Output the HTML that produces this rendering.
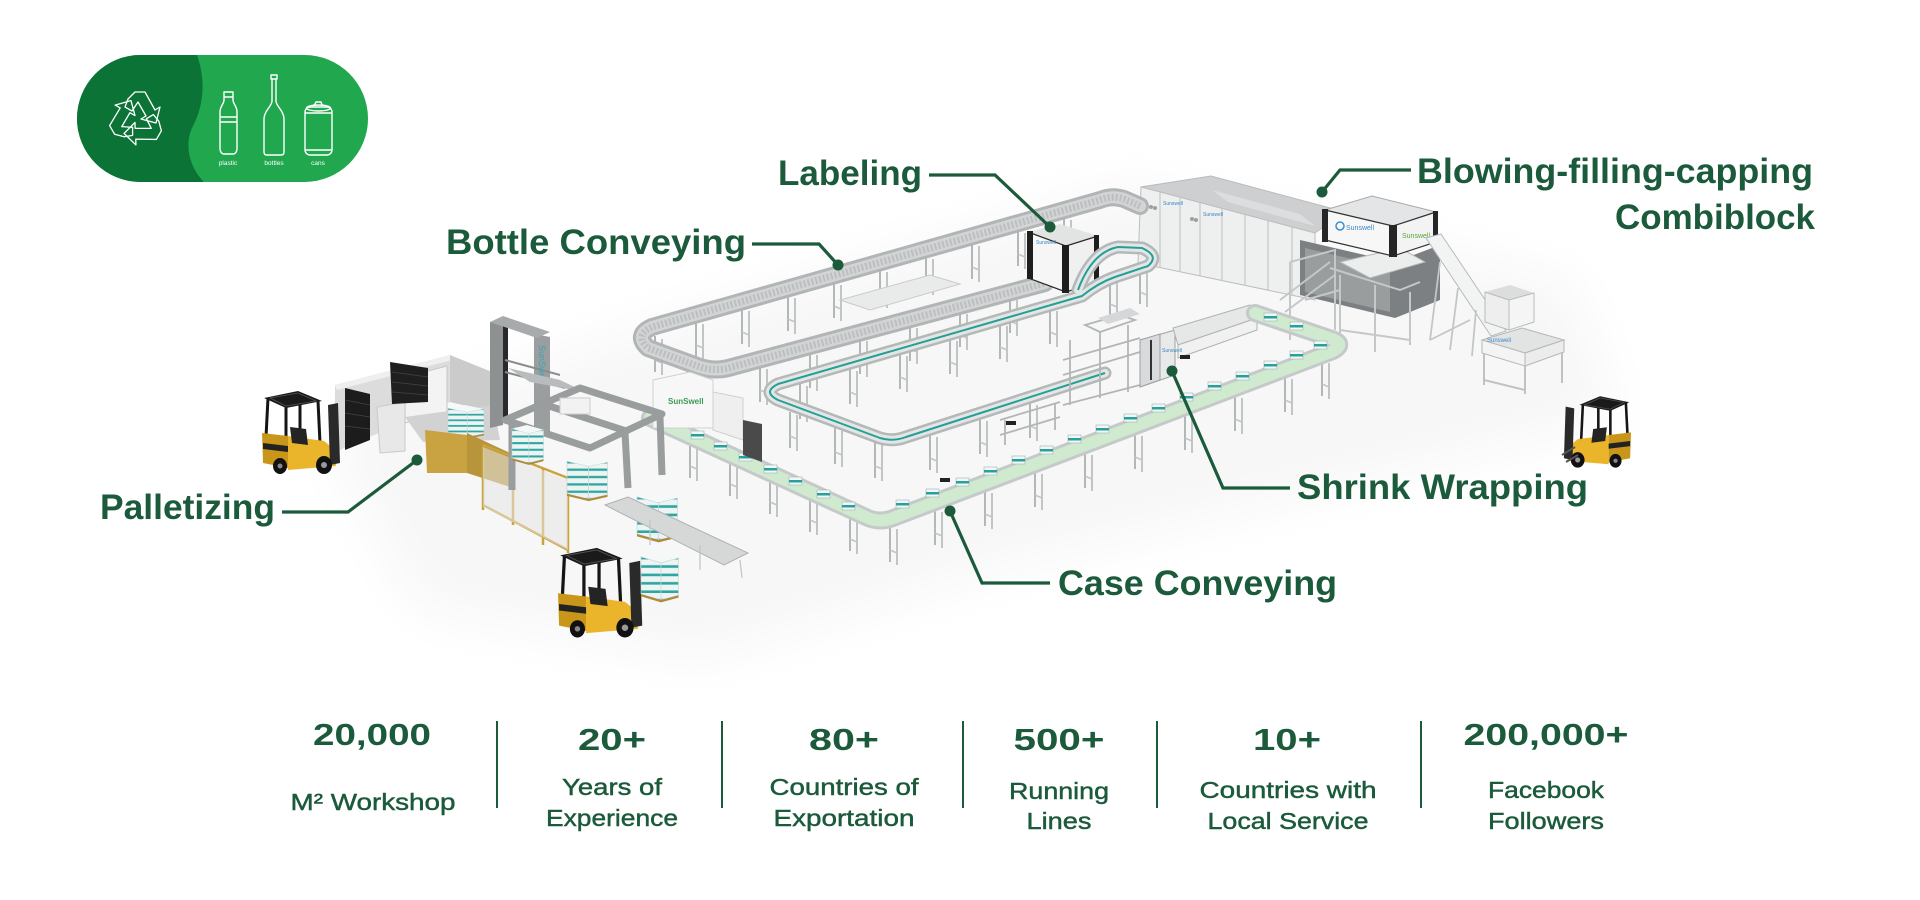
<!DOCTYPE html>
<html><head><meta charset="utf-8"><title>Production line</title>
<style>
html,body{margin:0;padding:0;background:#fff;}
svg{display:block;}
</style></head>
<body>
<svg xmlns="http://www.w3.org/2000/svg" xmlns:xlink="http://www.w3.org/1999/xlink" width="1920" height="900" viewBox="0 0 1920 900" font-family="'Liberation Sans', Arial, sans-serif">
<defs>
  <filter id="bl" x="-30%" y="-30%" width="160%" height="160%"><feGaussianBlur stdDeviation="25"/></filter>
  <clipPath id="pill"><rect x="77" y="55" width="291" height="127" rx="63.5"/></clipPath>
  <pattern id="tp" width="8" height="7" patternUnits="userSpaceOnUse">
    <rect width="8" height="7" fill="#eef4f4"/><rect y="4" width="8" height="2.2" fill="#2fa7a0"/>
  </pattern>
  <g id="leg">
    <line x1="0" y1="0" x2="0" y2="36" stroke="#b4b7b8" stroke-width="2"/>
    <line x1="7" y1="3" x2="7" y2="39" stroke="#c2c5c6" stroke-width="2"/>
    <line x1="0" y1="24" x2="7" y2="27" stroke="#c2c5c6" stroke-width="1.5"/>
  </g>
  <g id="pack">
    <rect x="0" y="0" width="13" height="8" fill="#f3f6f6" stroke="#9db4b2" stroke-width="0.6"/>
    <rect x="0" y="3" width="13" height="2.5" fill="#27a199"/>
  </g>
  <g id="stk">
    <polygon points="0,4 14,0 30,5 16,9" fill="#f5f8f8"/>
    <polygon points="0,4 16,9 16,40 0,35" fill="url(#tp)" stroke="#c9d4d4" stroke-width="0.5"/>
    <polygon points="16,9 30,5 30,36 16,40" fill="url(#tp)" stroke="#c9d4d4" stroke-width="0.5"/>
    <polygon points="0,35 16,40 30,36 30,38 16,42 0,37" fill="#b08a3a"/>
  </g>
  <g id="fl">
    <line x1="6" y1="5" x2="4" y2="44" stroke="#151515" stroke-width="3"/>
    <line x1="38" y1="0" x2="38" y2="38" stroke="#151515" stroke-width="3"/>
    <line x1="56" y1="8" x2="58" y2="50" stroke="#151515" stroke-width="3"/>
    <line x1="24" y1="12" x2="24" y2="46" stroke="#151515" stroke-width="3"/>
    <polygon points="2,5 36,-2 60,8 24,15" fill="#1a1a1a"/>
    <polygon points="8,5 36,0 54,8 24,13" fill="none" stroke="#555" stroke-width="0.8"/>
    <polygon points="0,40 26,43 26,75 1,70" fill="#c9961a"/>
    <polygon points="26,43 62,48 72,56 74,62 74,73 26,77" fill="#eab52b"/>
    <polygon points="1,50 26,53 26,59 1,56" fill="#222"/>
    <polygon points="28,34 44,36 46,52 30,50" fill="#242424"/>
    <polygon points="66,12 76,10 78,70 68,72" fill="#2a2a2a"/>
    <ellipse cx="18" cy="73" rx="7" ry="8" fill="#111"/><circle cx="18" cy="73" r="2.5" fill="#888"/>
    <ellipse cx="62" cy="72" rx="8" ry="9" fill="#111"/><circle cx="62" cy="72" r="3" fill="#999"/>
  </g>
</defs>

<rect width="1920" height="900" fill="#ffffff"/>

<!-- soft floor shadow -->
<path d="M320,430 L640,330 L1130,185 L1570,280 L1620,420 L1000,570 L700,660 L420,610 Z" fill="#f7f7f7" filter="url(#bl)"/>

<!-- ===== LOGO ===== -->
<g clip-path="url(#pill)">
  <rect x="77" y="55" width="291" height="127" fill="#21a84f"/>
  <path d="M77,55 H197 C206,80 204,106 192,128 C184,146 190,168 204,182 H77 Z" fill="#0c7337"/>
</g>
<g transform="translate(137,119)" fill="none" stroke="#fff" stroke-width="1.3" stroke-linejoin="round">
  <g id="rarm"><polygon points="-9,-20 -2,-27 8,-27 18,-9 23,-12 19,4 4,0 9,-3 1,-17 -5,-8 -12,-12"/></g>
  <use xlink:href="#rarm" transform="rotate(120)"/>
  <use xlink:href="#rarm" transform="rotate(240)"/>
</g>
<g fill="none" stroke="#fff" stroke-width="1.4" stroke-linejoin="round">
  <path d="M224,92 h9 v5 h-9 z M224,97 v3 c0,4 -4,6 -4,12 v37 c0,3 2,5 4,5 h9 c2,0 4,-2 4,-5 v-37 c0,-6 -4,-8 -4,-12 v-3"/>
  <line x1="220" y1="117" x2="237" y2="117"/><line x1="220" y1="122" x2="237" y2="122"/>
  <path d="M271,75 h6 v4 h-6 z M272,79 v22 c0,5 -8,10 -8,18 v33 c0,2 1,3 3,3 h14 c2,0 3,-1 3,-3 v-33 c0,-8 -8,-13 -8,-18 v-22"/>
  <rect x="305" y="107" width="27" height="48" rx="5"/>
  <ellipse cx="318.5" cy="108" rx="12" ry="3"/><line x1="305" y1="113" x2="332" y2="113"/><line x1="305" y1="150" x2="332" y2="150"/>
  <path d="M314,106 l2,-4 h5 l1,3"/>
</g>
<g fill="#fff" font-size="6.5" text-anchor="middle">
  <text x="228" y="165">plastic</text><text x="274" y="165">bottles</text><text x="318" y="165">cans</text>
</g>

<!-- ===== BLOW MOLDER ===== -->
<polygon points="1141,187 1211,176 1345,212 1315,233" fill="#cdcfd0" stroke="#b9bbbc"/>
<polygon points="1212,190 1300,214 1315,226 1228,202" fill="#dcdede"/>
<polygon points="1141,187 1315,233 1315,300 1138,263" fill="#eeefef" stroke="#bcbebf"/>
<g stroke="#c6c8c9" stroke-width="1.2">
  <line x1="1160" y1="192" x2="1160" y2="267"/><line x1="1180" y1="197" x2="1180" y2="272"/>
  <line x1="1200" y1="203" x2="1200" y2="276"/><line x1="1222" y1="209" x2="1222" y2="281"/>
  <line x1="1245" y1="215" x2="1245" y2="286"/><line x1="1268" y1="221" x2="1268" y2="291"/>
  <line x1="1292" y1="227" x2="1292" y2="296"/>
</g>
<g fill="#9aa0a2"><circle cx="1151" cy="207" r="2"/><circle cx="1155" cy="208" r="2"/><circle cx="1192" cy="219" r="2"/><circle cx="1196" cy="220" r="2"/></g>
<text x="1163" y="205" font-size="5" fill="#3b86c5">Sunswell</text>
<text x="1203" y="216" font-size="5" fill="#3b86c5">Sunswell</text>

<!-- machine body under filler -->
<polygon points="1300,240 1395,262 1440,245 1440,300 1395,318 1300,295" fill="#7d8082"/>
<polygon points="1305,248 1390,268 1390,312 1305,292" fill="#9a9d9e"/>
<g stroke="#c5c8c9" stroke-width="2" fill="none">
  <path d="M1290,262 L1335,250 L1335,330 M1290,262 L1290,340 M1305,300 L1340,290"/>
  <path d="M1330,268 L1400,290 L1420,282 M1340,275 L1340,348 M1375,285 L1375,352 M1410,292 L1410,345 M1340,330 L1410,340"/>
  <path d="M1280,300 L1330,262 M1285,312 L1335,275"/>
</g>
<polygon points="1340,262 1400,248 1425,262 1370,278" fill="#eceeee" stroke="#b5b8b9"/>

<!-- filler tower -->
<polygon points="1325,210 1372,196 1436,212 1393,226" fill="#e4e5e6" stroke="#aaa"/>
<polygon points="1325,210 1393,226 1393,256 1325,240" fill="#f7f7f7" stroke="#333" stroke-width="1.2"/>
<polygon points="1393,226 1436,212 1436,242 1393,256" fill="#f3f3f3" stroke="#333" stroke-width="1.2"/>
<rect x="1322" y="209" width="6" height="33" fill="#262626"/>
<polygon points="1389,225 1397,225 1397,257 1389,257" fill="#262626"/>
<rect x="1433" y="211" width="5" height="32" fill="#262626"/>
<circle cx="1340" cy="226" r="4" fill="none" stroke="#3a8fd0" stroke-width="1.5"/>
<text x="1346" y="230" font-size="7" fill="#3b86c5">Sunswell</text>
<text x="1402" y="238" font-size="7" fill="#5aa53a">Sunswell</text>

<!-- incline conveyor -->
<polygon points="1426,238 1441,234 1506,331 1491,336" fill="#f2f3f3" stroke="#b8bbbc"/>
<g stroke="#c3c6c7" stroke-width="1.8">
  <line x1="1440" y1="262" x2="1430" y2="340"/><line x1="1458" y1="288" x2="1450" y2="350"/>
  <line x1="1430" y1="340" x2="1470" y2="320"/><line x1="1476" y1="310" x2="1472" y2="356"/>
</g>
<!-- right unit -->
<polygon points="1485,292 1510,285 1534,293 1509,300" fill="#dcdddd"/>
<polygon points="1485,292 1509,300 1509,330 1485,322" fill="#eeeeee" stroke="#b9bbbc"/>
<polygon points="1509,300 1534,293 1534,322 1509,330" fill="#f5f5f5" stroke="#b9bbbc"/>
<polygon points="1482,340 1522,328 1564,340 1525,353" fill="#e2e3e3" stroke="#b5b8b9"/>
<polygon points="1482,340 1525,353 1525,366 1482,353" fill="#f4f4f4" stroke="#b5b8b9"/>
<polygon points="1525,353 1564,340 1564,352 1525,366" fill="#ececec" stroke="#b5b8b9"/>
<g stroke="#bfc2c3" stroke-width="2"><line x1="1484" y1="353" x2="1484" y2="385"/><line x1="1525" y1="366" x2="1525" y2="394"/><line x1="1562" y1="352" x2="1562" y2="383"/><line x1="1484" y1="380" x2="1525" y2="390"/></g>
<text x="1487" y="342" font-size="6" fill="#3b86c5">Sunswell</text>

<!-- ===== CONVEYOR LEGS ===== -->
<g>
  <use xlink:href="#leg" x="1064" y="217"/><use xlink:href="#leg" x="1018" y="230"/><use xlink:href="#leg" x="972" y="243"/>
  <use xlink:href="#leg" x="926" y="256"/><use xlink:href="#leg" x="880" y="269"/><use xlink:href="#leg" x="834" y="282"/>
  <use xlink:href="#leg" x="788" y="295"/><use xlink:href="#leg" x="742" y="308"/><use xlink:href="#leg" x="696" y="321"/>
  <use xlink:href="#leg" x="655" y="336"/>
  <use xlink:href="#leg" x="760" y="366"/><use xlink:href="#leg" x="810" y="352"/><use xlink:href="#leg" x="860" y="338"/>
  <use xlink:href="#leg" x="910" y="325"/><use xlink:href="#leg" x="960" y="311"/><use xlink:href="#leg" x="1010" y="297"/>
  <use xlink:href="#leg" x="800" y="383"/><use xlink:href="#leg" x="850" y="368"/><use xlink:href="#leg" x="900" y="353"/>
  <use xlink:href="#leg" x="950" y="338"/><use xlink:href="#leg" x="1000" y="323"/><use xlink:href="#leg" x="1050" y="308"/>
  <use xlink:href="#leg" x="1110" y="280"/><use xlink:href="#leg" x="1140" y="268"/>
  <use xlink:href="#leg" x="790" y="412"/><use xlink:href="#leg" x="835" y="428"/><use xlink:href="#leg" x="875" y="442"/>
  <use xlink:href="#leg" x="930" y="434"/><use xlink:href="#leg" x="980" y="418"/><use xlink:href="#leg" x="1030" y="402"/>
  <use xlink:href="#leg" x="690" y="442"/><use xlink:href="#leg" x="730" y="460"/><use xlink:href="#leg" x="770" y="478"/>
  <use xlink:href="#leg" x="810" y="496"/><use xlink:href="#leg" x="850" y="515"/><use xlink:href="#leg" x="890" y="526"/>
  <use xlink:href="#leg" x="935" y="509"/><use xlink:href="#leg" x="985" y="490"/><use xlink:href="#leg" x="1035" y="471"/>
  <use xlink:href="#leg" x="1085" y="452"/><use xlink:href="#leg" x="1135" y="433"/><use xlink:href="#leg" x="1185" y="414"/>
  <use xlink:href="#leg" x="1235" y="395"/><use xlink:href="#leg" x="1285" y="376"/><use xlink:href="#leg" x="1322" y="360"/>
</g>

<!-- top bottle conveyor loop -->
<path d="M1140,206 L1124,199 Q1112,195 1100,200 L652,327 Q634,335 648,348 L700,367 Q716,372 732,367 L1045,283" fill="none" stroke="#b2b5b6" stroke-width="18" stroke-linejoin="round" stroke-linecap="round"/>
<path d="M1140,206 L1124,199 Q1112,195 1100,200 L652,327 Q634,335 648,348 L700,367 Q716,372 732,367 L1045,283" fill="none" stroke="#d2d4d5" stroke-width="12" stroke-linejoin="round" stroke-linecap="round"/>
<path d="M1140,206 L1124,199 Q1112,195 1100,200 L652,327 Q634,335 648,348 L700,367 Q716,372 732,367 L1045,283" fill="none" stroke="#bcbfc0" stroke-width="7" stroke-dasharray="2 2" stroke-linejoin="round"/>
<!-- accumulation table -->
<polygon points="840,300 930,275 960,284 870,310" fill="#e9ebeb" stroke="#c8cbcc"/>

<!-- labeling machine -->
<polygon points="1028,232 1060,224 1098,236 1066,246" fill="#e2e3e3"/>
<polygon points="1028,232 1066,246 1066,292 1028,278" fill="#f6f6f6" stroke="#2a2a2a" stroke-width="1.2"/>
<polygon points="1066,246 1098,236 1098,282 1066,292" fill="#f0f0f0" stroke="#2a2a2a" stroke-width="1.2"/>
<rect x="1027" y="231" width="6" height="48" fill="#1e1e1e"/>
<rect x="1062" y="245" width="7" height="48" fill="#1e1e1e"/>
<rect x="1094" y="235" width="5" height="47" fill="#1e1e1e"/>
<text x="1036" y="244" font-size="5" fill="#3b86c5">Sunswell</text>

<!-- teal bottle conveyor -->
<path d="M1078,290 Q1092,252 1118,247 L1142,248 Q1160,256 1148,266 L1115,277 Q1098,283 1082,296 L778,384 Q762,392 778,400 L880,438 Q893,442 906,437 L1105,373" fill="none" stroke="#b5b8b9" stroke-width="13" stroke-linejoin="round" stroke-linecap="round"/>
<path d="M1078,290 Q1092,252 1118,247 L1142,248 Q1160,256 1148,266 L1115,277 Q1098,283 1082,296 L778,384 Q762,392 778,400 L880,438 Q893,442 906,437 L1105,373" fill="none" stroke="#e4e6e6" stroke-width="8" stroke-linejoin="round" stroke-linecap="round"/>
<path d="M1078,290 Q1092,252 1118,247 L1142,248 Q1160,256 1148,266 L1115,277 Q1098,283 1082,296 L778,384 Q762,392 778,400 L880,438 Q893,442 906,437 L1105,373" fill="none" stroke="#22a096" stroke-width="2" stroke-linejoin="round"/>

<!-- case packer / shrink wrapper -->
<g stroke="#b3b6b7" stroke-width="1.8" fill="none">
  <path d="M1063,360 L1140,338 M1063,375 L1140,352 M1070,340 L1070,405 M1100,332 L1100,398 M1128,325 L1128,392 M1063,405 L1140,385"/>
  <path d="M1085,325 L1120,315 L1135,320 L1100,332 Z"/>
  <path d="M1000,420 L1060,402 M1000,435 L1060,417 M1005,420 L1005,445 M1055,404 L1055,430"/>
</g>
<polygon points="1098,318 1130,308 1140,314 1108,324" fill="#d5d7d8"/>
<polygon points="1140,340 1175,330 1175,375 1140,387" fill="#e8e9e9" stroke="#9c9fa0"/>
<polygon points="1140,340 1160,334 1160,380 1140,387" fill="#d8dadb" stroke="#9c9fa0"/>
<polygon points="1173,328 1250,305 1257,318 1178,345" fill="#e6e7e7" stroke="#b0b3b4"/>
<polygon points="1178,345 1257,318 1257,330 1178,358" fill="#f1f1f1" stroke="#b0b3b4"/>
<rect x="1150" y="340" width="2" height="40" fill="#333"/>
<text x="1162" y="352" font-size="5" fill="#3b86c5">Sunswell</text>

<!-- green case conveyor -->
<path d="M650,418 L868,518 Q880,523 893,518 L1333,351 Q1346,344 1332,339 L1255,313" fill="none" stroke="#c6c9c9" stroke-width="18" stroke-linejoin="round" stroke-linecap="round"/>
<path d="M650,418 L868,518 Q880,523 893,518 L1333,351 Q1346,344 1332,339 L1255,313" fill="none" stroke="#d0eacf" stroke-width="12" stroke-linejoin="round" stroke-linecap="round"/>
<g>
  <use xlink:href="#pack" x="666" y="420"/><use xlink:href="#pack" x="691" y="431"/><use xlink:href="#pack" x="714" y="442"/>
  <use xlink:href="#pack" x="739" y="453"/><use xlink:href="#pack" x="764" y="465"/><use xlink:href="#pack" x="789" y="477"/>
  <use xlink:href="#pack" x="817" y="490"/><use xlink:href="#pack" x="842" y="502"/>
  <use xlink:href="#pack" x="896" y="500"/><use xlink:href="#pack" x="926" y="489"/><use xlink:href="#pack" x="956" y="478"/>
  <use xlink:href="#pack" x="984" y="467"/><use xlink:href="#pack" x="1012" y="456"/><use xlink:href="#pack" x="1040" y="446"/>
  <use xlink:href="#pack" x="1068" y="435"/><use xlink:href="#pack" x="1096" y="425"/><use xlink:href="#pack" x="1124" y="414"/>
  <use xlink:href="#pack" x="1152" y="404"/><use xlink:href="#pack" x="1180" y="393"/><use xlink:href="#pack" x="1208" y="382"/>
  <use xlink:href="#pack" x="1236" y="372"/><use xlink:href="#pack" x="1264" y="361"/><use xlink:href="#pack" x="1290" y="351"/>
  <use xlink:href="#pack" x="1314" y="341"/><use xlink:href="#pack" x="1290" y="322"/><use xlink:href="#pack" x="1264" y="313"/>
</g>
<rect x="1006" y="421" width="10" height="4" fill="#222"/><rect x="1180" y="355" width="10" height="4" fill="#222"/>
<rect x="940" y="478" width="10" height="4" fill="#222"/>

<!-- ===== PALLETIZING AREA ===== -->
<polygon points="335,385 450,355 450,402 335,452" fill="#dcdcdc"/>
<polygon points="335,385 450,355 452,360 337,390" fill="#efefef"/>
<polygon points="450,355 492,372 492,412 450,402" fill="#cbcbcb"/>
<polygon points="377,407 405,402 405,451 380,453" fill="#e8e8e8" stroke="#c9c9c9"/>
<polygon points="405,377 447,366 447,412 405,423" fill="#f3f3f3" stroke="#c6c6c6"/>
<polygon points="390,362 428,368 428,402 392,404" fill="#1f1f1f"/>
<g stroke="#444" stroke-width="0.8"><line x1="392" y1="372" x2="428" y2="377"/><line x1="392" y1="382" x2="428" y2="386"/><line x1="392" y1="392" x2="428" y2="395"/></g>
<polygon points="405,417 493,405 500,440 423,442" fill="#d2d2d2"/>
<use xlink:href="#stk" x="448" y="405" transform="translate(448,405) scale(1.2,0.8) translate(-448,-405)"/>

<!-- palletizer tower -->
<polygon points="490,322 503,318 503,425 490,428" fill="#8e9192"/>
<rect x="503" y="326" width="5" height="92" fill="#2a2a2a"/>
<polygon points="534,334 550,337 550,432 534,428" fill="#9b9e9f"/>
<polygon points="490,322 503,316 550,332 537,338" fill="#a8abac"/>
<g stroke="#8a8d8e" stroke-width="2"><line x1="505" y1="360" x2="560" y2="375"/><line x1="505" y1="372" x2="565" y2="388"/></g>
<text transform="translate(539,345) rotate(90)" font-size="9" fill="#3aa3b5">SunSwell</text>
<polygon points="508,368 560,380 585,392 530,382" fill="#b9bcbd"/>

<!-- white cabinet -->
<polygon points="653,380 690,372 713,380 713,428 653,428" fill="#f7f7f7" stroke="#d0d0d0"/>
<polygon points="713,392 743,398 743,440 713,430" fill="#efefef" stroke="#d0d0d0"/>
<polygon points="743,420 762,424 762,462 743,455" fill="#4a4a4a"/>
<text x="668" y="404" font-size="8" font-weight="700" fill="#3c9a55">SunSwell</text>

<!-- yellow gate & fence -->
<polygon points="425,430 467,435 467,473 427,473" fill="#c9a341"/>
<polygon points="467,433 510,453 510,487 467,473" fill="#b8953a"/>
<g stroke="#c9a33f" stroke-width="2.5">
  <line x1="483" y1="445" x2="483" y2="510"/><line x1="513" y1="455" x2="513" y2="525"/>
  <line x1="543" y1="468" x2="543" y2="545"/><line x1="568" y1="478" x2="568" y2="553"/>
  <line x1="483" y1="445" x2="568" y2="478"/><line x1="483" y1="505" x2="568" y2="550"/>
</g>
<polygon points="483,447 568,480 568,550 483,507" fill="#e5e5e5" opacity="0.55"/>

<!-- gantry frame -->
<g stroke="#9a9d9e" stroke-width="7" fill="none" stroke-linejoin="round">
  <polygon points="505,420 580,388 662,414 590,448"/>
  <line x1="543" y1="404" x2="626" y2="431"/>
  <line x1="512" y1="422" x2="512" y2="490"/>
  <line x1="625" y1="433" x2="628" y2="488"/>
  <line x1="660" y1="417" x2="662" y2="475"/>
</g>
<rect x="560" y="398" width="30" height="16" fill="#f2f2f2" stroke="#ccc"/>

<!-- pallet stacks -->
<use xlink:href="#stk" x="0" y="0" transform="translate(512,425) scale(1.05,0.95)"/>
<use xlink:href="#stk" x="0" y="0" transform="translate(567,457) scale(1.35,1.05)"/>
<use xlink:href="#stk" x="0" y="0" transform="translate(637,492) scale(1.35,1.2)"/>

<!-- roller conveyor out -->
<polygon points="605,505 628,497 748,553 724,565" fill="#d6d8d8" stroke="#aeb1b2"/>
<g stroke="#c0c3c4" stroke-width="1.2"><line x1="650" y1="520" x2="650" y2="545"/><line x1="700" y1="545" x2="700" y2="570"/><line x1="740" y1="560" x2="742" y2="578"/></g>

<!-- forklifts -->
<use xlink:href="#fl" transform="translate(262,393)"/>
<polygon points="345,388 370,394 370,440 345,450" fill="#1c1c1c"/>
<g stroke="#444" stroke-width="0.8"><line x1="345" y1="400" x2="370" y2="405"/><line x1="345" y1="413" x2="370" y2="417"/><line x1="345" y1="426" x2="370" y2="429"/></g>

<use xlink:href="#fl" transform="translate(558,550) scale(1.08)"/>
<use xlink:href="#stk" x="0" y="0" transform="translate(641,552) scale(1.25,1.2)"/>

<use xlink:href="#fl" transform="translate(1631,398) scale(-0.86,0.86)"/>
<g stroke="#555" stroke-width="2"><line x1="1562" y1="455" x2="1575" y2="447"/><line x1="1566" y1="462" x2="1578" y2="455"/></g>

<!-- ===== CONNECTORS ===== -->
<g fill="none" stroke="#1b5a3a" stroke-width="3.2" stroke-linejoin="miter">
  <polyline points="929,175 995,175 1050,227"/>
  <polyline points="752,244 819,244 838,265"/>
  <polyline points="1411,170 1340,170 1322,192"/>
  <polyline points="282,512 348,512 417,460"/>
  <polyline points="1290,488 1223,488 1172,371"/>
  <polyline points="1050,583 982,583 950,511"/>
</g>
<g fill="#1b5a3a">
  <circle cx="1050" cy="227" r="5.5"/><circle cx="838" cy="265" r="5.5"/><circle cx="1322" cy="192" r="5.5"/>
  <circle cx="417" cy="460" r="5.5"/><circle cx="1172" cy="371" r="5.5"/><circle cx="950" cy="511" r="5.5"/>
</g>

<!-- ===== LABELS ===== -->
<g fill="#1b5a3a" font-weight="700" font-size="35">
  <text x="778" y="185" textLength="144" lengthAdjust="spacingAndGlyphs">Labeling</text>
  <text x="446" y="254" textLength="300" lengthAdjust="spacingAndGlyphs">Bottle Conveying</text>
  <text x="1417" y="183" textLength="396" lengthAdjust="spacingAndGlyphs">Blowing-filling-capping</text>
  <text x="1615" y="229" textLength="200" lengthAdjust="spacingAndGlyphs">Combiblock</text>
  <text x="100" y="519" textLength="175" lengthAdjust="spacingAndGlyphs">Palletizing</text>
  <text x="1297" y="499" textLength="291" lengthAdjust="spacingAndGlyphs">Shrink Wrapping</text>
  <text x="1058" y="595" textLength="279" lengthAdjust="spacingAndGlyphs">Case Conveying</text>
</g>

<!-- ===== STATS ===== -->
<g stroke="#1b5a3a" stroke-width="2">
  <line x1="497" y1="721" x2="497" y2="808"/><line x1="722" y1="721" x2="722" y2="808"/>
  <line x1="963" y1="721" x2="963" y2="808"/><line x1="1157" y1="721" x2="1157" y2="808"/>
  <line x1="1421" y1="721" x2="1421" y2="808"/>
</g>
<g fill="#1b5a3a" font-weight="700" font-size="31" text-anchor="middle">
  <text x="372" y="745" textLength="118" lengthAdjust="spacingAndGlyphs">20,000</text>
  <text x="612" y="750" textLength="68" lengthAdjust="spacingAndGlyphs">20+</text>
  <text x="844" y="750" textLength="70" lengthAdjust="spacingAndGlyphs">80+</text>
  <text x="1059" y="750" textLength="91" lengthAdjust="spacingAndGlyphs">500+</text>
  <text x="1287" y="750" textLength="68" lengthAdjust="spacingAndGlyphs">10+</text>
  <text x="1546" y="745" textLength="165" lengthAdjust="spacingAndGlyphs">200,000+</text>
</g>
<g fill="#1b5a3a" stroke="#1b5a3a" stroke-width="0.45" font-size="23.5" text-anchor="middle">
  <text x="373" y="810" textLength="165" lengthAdjust="spacingAndGlyphs">M² Workshop</text>
  <text x="612" y="795" textLength="100" lengthAdjust="spacingAndGlyphs">Years of</text>
  <text x="612" y="826" textLength="132" lengthAdjust="spacingAndGlyphs">Experience</text>
  <text x="844" y="795" textLength="149" lengthAdjust="spacingAndGlyphs">Countries of</text>
  <text x="844" y="826" textLength="141" lengthAdjust="spacingAndGlyphs">Exportation</text>
  <text x="1059" y="799" textLength="100" lengthAdjust="spacingAndGlyphs">Running</text>
  <text x="1059" y="829" textLength="65" lengthAdjust="spacingAndGlyphs">Lines</text>
  <text x="1288" y="798" textLength="177" lengthAdjust="spacingAndGlyphs">Countries with</text>
  <text x="1288" y="829" textLength="161" lengthAdjust="spacingAndGlyphs">Local Service</text>
  <text x="1546" y="798" textLength="116" lengthAdjust="spacingAndGlyphs">Facebook</text>
  <text x="1546" y="829" textLength="116" lengthAdjust="spacingAndGlyphs">Followers</text>
</g>
</svg>
</body></html>
